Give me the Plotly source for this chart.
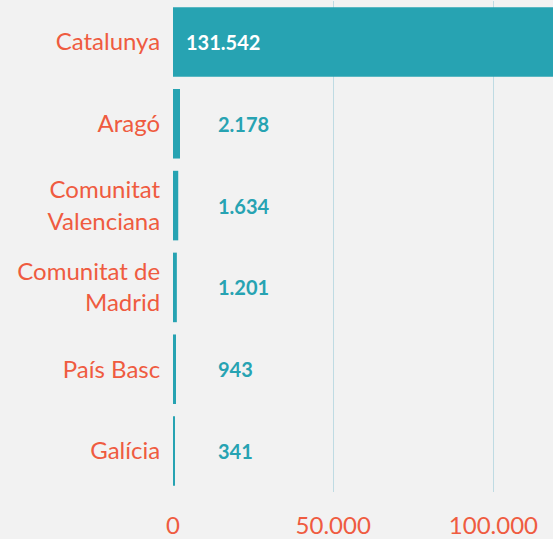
import plotly.graph_objects as go

regions = ["Catalunya", "Aragó", "Comunitat<br>Valenciana", "Comunitat de<br>Madrid", "País Basc", "Galícia"]
values = [131542, 2178, 1634, 1201, 943, 341]
tick_vals = [0, 50000, 100000]
tick_text = ["0", "50.000", "100.000"]

BAR = "#27a3b2"
ORANGE = "#ef5b40"
BG = "#f2f2f2"
FONT = "Lato"

def fmt(v):
    return f"{v:,}".replace(",", ".")

fig = go.Figure()
fig.add_trace(go.Bar(
    y=regions, x=values, orientation="h",
    marker=dict(color=BAR, line=dict(width=0)),
    hoverinfo="skip",
))

annotations = []
for i, (r, v) in enumerate(zip(regions, values)):
    inside = i == 0
    annotations.append(dict(
        x=0.030 if inside else 0.114, xref="paper", xanchor="left",
        y=r, yref="y", yanchor="middle",
        text=fmt(v), showarrow=False,
        font=dict(family=FONT, size=20, color="white" if inside else BAR, weight="bold"),
    ))

fig.update_layout(
    width=553, height=539,
    margin=dict(l=173, r=0, t=1, b=43),
    paper_bgcolor=BG, plot_bgcolor=BG,
    bargap=0.15,
    showlegend=False,
    annotations=annotations,
    font=dict(family=FONT, color=ORANGE, size=24),
    xaxis=dict(
        range=[0, 118600],
        tickvals=tick_vals, ticktext=tick_text,
        showgrid=True, gridcolor="#bfdbe3", gridwidth=1,
        zeroline=False, showline=False,
        ticks="outside", ticklen=12, tickcolor="rgba(0,0,0,0)",
        tickfont=dict(family=FONT, size=24, color=ORANGE),
        fixedrange=True,
    ),
    yaxis=dict(
        autorange="reversed",
        showgrid=False, zeroline=False, showline=False,
        ticks="outside", ticklen=7, tickcolor="rgba(0,0,0,0)",
        tickfont=dict(family=FONT, size=24, color=ORANGE),
        fixedrange=True,
    ),
)

fig.write_html(
    "out.html",
    config={"displayModeBar": False},
    post_script="document.body.style.margin='0';document.body.style.background='#f2f2f2';",
)
